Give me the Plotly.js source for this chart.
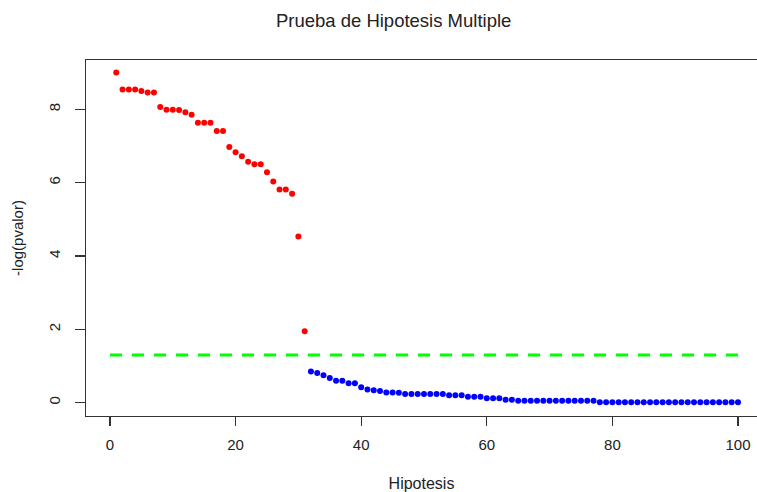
<!DOCTYPE html>
<html>
<head>
<meta charset="utf-8">
<script src="https://cdn.plot.ly/plotly-3.0.1.min.js"></script>
<style>html,body{margin:0;padding:0;background:#fff;}#chart{width:757px;height:492px;}</style>
</head>
<body>
<div id="chart"></div>
<script>
// Significant hypotheses (red)
var hipRojo = [1,2,3,4,5,6,7,8,9,10,11,12,13,14,15,16,17,18,19,20,21,22,23,24,25,26,27,28,29,30,31];
var valRojo = [9.00,8.54,8.54,8.54,8.50,8.46,8.46,8.06,7.99,7.99,7.98,7.92,7.85,7.63,7.63,7.63,7.41,7.41,6.97,6.83,6.72,6.57,6.50,6.50,6.28,6.03,5.81,5.81,5.70,4.53,1.95];
// Non-significant hypotheses (blue)
var hipAzul = [32,33,34,35,36,37,38,39,40,41,42,43,44,45,46,47,48,49,50,51,52,53,54,55,56,57,58,59,60,61,62,63,64,65,66,67,68,69,70,71,72,73,74,75,76,77,78,79,80,81,82,83,84,85,86,87,88,89,90,91,92,93,94,95,96,97,98,99,100];
var valAzul = [0.85,0.81,0.75,0.67,0.60,0.60,0.53,0.53,0.42,0.36,0.34,0.32,0.28,0.28,0.27,
  0.24,0.24,0.24,0.24,0.24,0.24,0.24,
  0.20,0.20,0.20,
  0.16,0.16,0.16,
  0.12,0.12,0.12,
  0.08,0.08,
  0.05,0.05,0.05,0.05,0.05,0.05,0.05,0.05,0.05,0.05,0.05,0.05,0.05,
  0.01,0.01,0.01,0.01,0.01,0.01,0.01,0.01,0.01,0.01,0.01,0.01,0.01,0.01,0.01,0.01,0.01,0.01,0.01,0.01,0.01,0.01,0.01];
// Threshold line -log10(0.05)
var umbralX = [0, 100];
var umbralY = [1.30, 1.30];
var ticksX = [0, 20, 40, 60, 80, 100];
var ticksY = [0, 2, 4, 6, 8];

var fontFam = '"Liberation Sans", Arial, sans-serif';
var traces = [
  {x: umbralX, y: umbralY, mode: 'lines', line: {color: '#00ff00', width: 3, dash: '12px,10px'}, hoverinfo: 'skip'},
  {x: hipRojo, y: valRojo, mode: 'markers', marker: {color: '#ff0000', size: 6}},
  {x: hipAzul, y: valAzul, mode: 'markers', marker: {color: '#0000ff', size: 6}}
];
var layout = {
  width: 757, height: 492,
  margin: {l: 86, r: 0, t: 60, b: 76},
  paper_bgcolor: '#ffffff', plot_bgcolor: '#ffffff',
  showlegend: false,
  font: {family: fontFam, color: '#222', size: 15},
  title: {text: 'Prueba de Hipotesis Multiple', font: {size: 18.5, family: fontFam, color: '#222'},
          x: 0.52, xanchor: 'center', y: 0.958, yanchor: 'middle'},
  xaxis: {range: [-3.82, 103.03], tickvals: ticksX, ticktext: ticksX.map(String),
          showgrid: false, zeroline: false, showline: true, mirror: true,
          linecolor: '#333', linewidth: 1.3, ticks: 'outside', ticklen: 9, tickcolor: '#333', tickwidth: 1.3,
          ticklabelstandoff: 6,
          tickfont: {size: 15}, title: {text: 'Hipotesis', font: {size: 16}, standoff: 28}},
  yaxis: {range: [-0.363, 9.344], tickvals: ticksY, ticktext: ticksY.map(String), tickangle: -90,
          showgrid: false, zeroline: false, showline: true,
          linecolor: '#333', linewidth: 1.3, ticks: 'outside', ticklen: 10, tickcolor: '#333', tickwidth: 1.3,
          ticklabelstandoff: 9,
          tickfont: {size: 15}, title: {text: '-log(pvalor)', font: {size: 15}, standoff: 18}}
};
Plotly.newPlot('chart', traces, layout, {displayModeBar: false, staticPlot: true});
</script>
</body>
</html>
